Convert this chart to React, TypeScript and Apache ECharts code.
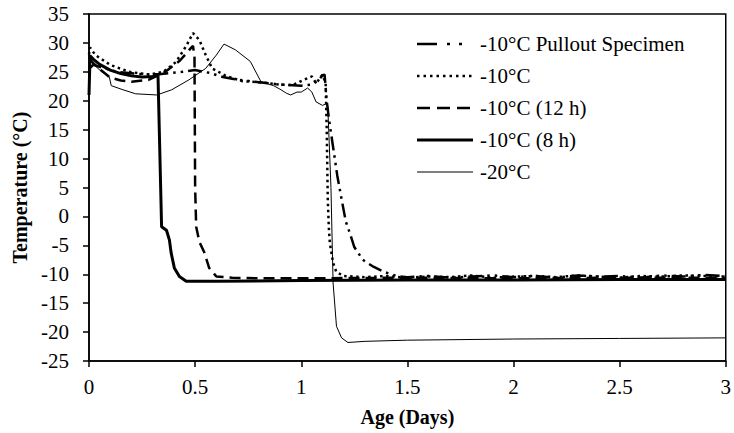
import React, { useEffect, useRef } from "react";
import * as echarts from "echarts";

const FONT = "Liberation Serif, Times New Roman, serif";

const seriesNames = [
  "-10°C Pullout Specimen",
  "-10°C",
  "-10°C (12 h)",
  "-10°C (8 h)",
  "-20°C",
];

const xTicks = [0, 0.5, 1, 1.5, 2, 2.5, 3];
const yMin = -25;
const yMax = 35;

const pulloutDays = [0, 0.02, 0.13, 0.25, 0.33, 0.44, 0.5, 0.57, 0.63, 0.69, 0.8, 0.9, 1.0, 1.05, 1.08, 1.1, 1.11, 1.12, 1.13, 1.15, 1.17, 1.19, 1.21, 1.23, 1.25, 1.29, 1.34, 1.39, 1.45, 1.5, 1.6, 1.7, 1.8, 1.9, 2.0, 2.1, 2.2, 2.3, 2.4, 2.5, 2.6, 2.7, 2.8, 2.9, 3.0];
const pulloutTemps = [25.5, 26.2, 25.0, 24.6, 24.6, 25.0, 25.3, 24.8, 24.1, 23.7, 23.2, 22.8, 22.6, 22.8, 23.5, 24.4, 24.5, 20.0, 17.0, 12.0, 7.0, 3.0, -0.9, -3.0, -5.3, -7.5, -8.7, -9.6, -10.3, -10.5, -10.3, -10.6, -10.4, -10.2, -10.5, -10.3, -10.6, -10.2, -10.4, -10.3, -10.6, -10.2, -10.4, -10.1, -10.3];

const dottedDays = [0, 0.005, 0.03, 0.1, 0.19, 0.285, 0.35, 0.41, 0.46, 0.49, 0.52, 0.55, 0.58, 0.645, 0.72, 0.8, 0.9, 0.96, 1.01, 1.05, 1.07, 1.1, 1.115, 1.12, 1.125, 1.13, 1.135, 1.15, 1.165, 1.2, 1.3, 1.4, 1.5, 1.6, 1.7, 1.8, 1.9, 2.0, 2.1, 2.2, 2.3, 2.4, 2.5, 2.6, 2.7, 2.8, 2.9, 3.0];
const dottedTemps = [28.0, 29.2, 27.9, 26.2, 25.0, 24.5, 25.0, 26.7, 29.6, 31.7, 30.5, 27.9, 25.6, 24.3, 23.4, 23.2, 22.8, 22.7, 23.6, 24.2, 23.0, 24.5, 23.0, 15.0, 3.0, -2.0, -4.7, -8.0, -9.6, -10.3, -10.5, -10.3, -10.6, -10.4, -10.5, -10.2, -10.6, -10.4, -10.3, -10.5, -10.2, -10.4, -10.6, -10.3, -10.4, -10.2, -10.3, -10.4];

const twelveDays = [0, 0.02, 0.05, 0.1, 0.15, 0.2, 0.28, 0.36, 0.43, 0.48, 0.49, 0.497, 0.5, 0.505, 0.52, 0.543, 0.566, 0.6, 0.675, 0.8, 1.0, 1.5, 2.0, 2.5, 3.0];
const twelveTemps = [27.5, 26.5, 25.5, 24.0, 23.5, 23.3, 23.6, 25.0, 27.0, 29.1, 29.5, 27.5, 5.0, -1.8, -4.4, -6.2, -8.9, -10.4, -10.6, -10.7, -10.7, -10.6, -10.7, -10.6, -10.6];

const eightDays = [0, 0.005, 0.02, 0.05, 0.1, 0.15, 0.2, 0.25, 0.3, 0.325, 0.342, 0.365, 0.379, 0.387, 0.402, 0.426, 0.458, 0.6, 1.0, 1.5, 2.0, 2.5, 3.0];
const eightTemps = [21.0, 27.8, 27.2, 26.3, 25.3, 24.7, 24.3, 24.1, 24.2, 24.5, -1.8, -2.4, -4.1, -6.3, -8.9, -10.4, -11.2, -11.2, -11.1, -11.0, -11.0, -10.9, -10.9];

const twentyDays = [0, 0.005, 0.03, 0.06, 0.095, 0.105, 0.16, 0.22, 0.32, 0.39, 0.47, 0.55, 0.6, 0.636, 0.69, 0.76, 0.81, 0.87, 0.9, 0.93, 0.95, 0.98, 1.0, 1.03, 1.05, 1.07, 1.1, 1.12, 1.125, 1.14, 1.15, 1.166, 1.19, 1.22, 1.3, 1.5, 2.0, 2.5, 3.0];
const twentyTemps = [24.0, 27.0, 26.0, 25.0, 24.2, 22.6, 21.9, 21.2, 21.0, 21.9, 23.6, 25.6, 27.9, 29.8, 28.8, 26.8, 23.3, 22.6, 22.0, 21.3, 21.0, 21.5, 21.5, 22.2, 21.5, 19.8, 19.2, 19.5, 19.0, 5.0, -11.5, -19.0, -21.0, -21.8, -21.6, -21.4, -21.2, -21.1, -21.0];

const pairs = (xs: number[], ys: number[]) => xs.map((x, i) => [x, ys[i]]);

export default function App() {
  const ref = useRef<HTMLDivElement>(null);
  useEffect(() => {
    if (!ref.current) return;
    const chart = echarts.init(ref.current, undefined, { renderer: "svg" });
    const axisLabelStyle = { color: "#000", fontFamily: FONT, fontSize: 21 };
    const nameStyle = { color: "#000", fontFamily: FONT, fontSize: 20, fontWeight: "bold" as const };

    const styles = [
      { width: 2.5, type: [14, 5, 2.5, 5, 2.5, 5], legendDash: [20, 10, 3, 9, 3, 11] },
      { width: 2.5, type: [2.5, 3.5], legendDash: [2.5, 4] },
      { width: 2.5, type: [11, 6], legendDash: [13, 7] },
      { width: 3, type: "solid", legendDash: null },
      { width: 1, type: "solid", legendDash: null },
    ];
    const datasets = [
      pairs(pulloutDays, pulloutTemps),
      pairs(dottedDays, dottedTemps),
      pairs(twelveDays, twelveTemps),
      pairs(eightDays, eightTemps),
      pairs(twentyDays, twentyTemps),
    ];

    const legendX = 417;
    const legendW = 56;
    const legendTop = 44;
    const legendStep = 32;
    const legendGraphics: any[] = [];
    seriesNames.forEach((name, i) => {
      const y = legendTop + i * legendStep;
      legendGraphics.push({
        type: "line",
        shape: { x1: legendX, y1: y, x2: legendX + legendW, y2: y },
        style: {
          stroke: "#000",
          lineWidth: styles[i].width,
          lineDash: styles[i].legendDash || undefined,
          lineCap: "butt",
        },
        silent: true,
      });
      legendGraphics.push({
        type: "text",
        x: legendX + legendW + 7,
        y,
        style: {
          text: name,
          fill: "#000",
          font: `21px ${FONT}`,
          verticalAlign: "middle",
          align: "left",
        },
        silent: true,
      });
    });

    chart.setOption({
      animation: false,
      backgroundColor: "#fff",
      textStyle: { fontFamily: FONT },
      grid: {
        left: 89,
        top: 14,
        width: 640,
        height: 347,
        show: true,
        borderColor: "#000",
        borderWidth: 1.5,
        backgroundColor: "transparent",
      },
      graphic: legendGraphics,
      xAxis: {
        type: "value",
        min: xTicks[0],
        max: xTicks[xTicks.length - 1],
        interval: 0.5,
        name: "Age (Days)",
        nameLocation: "middle",
        nameGap: 46,
        nameTextStyle: nameStyle,
        axisLine: { show: true, onZero: false, lineStyle: { color: "#000", width: 1.5 } },
        axisTick: { show: true, inside: false, length: 6, lineStyle: { color: "#000", width: 1.5 } },
        axisLabel: { ...axisLabelStyle, margin: 15 },
        splitLine: { show: false },
      },
      yAxis: {
        type: "value",
        min: yMin,
        max: yMax,
        interval: 5,
        name: "Temperature (°C)",
        nameLocation: "middle",
        nameGap: 56,
        nameTextStyle: nameStyle,
        axisLine: { show: true, onZero: false, lineStyle: { color: "#000", width: 1.5 } },
        axisTick: { show: true, inside: false, length: 6, lineStyle: { color: "#000", width: 1.5 } },
        axisLabel: { ...axisLabelStyle, margin: 20 },
        splitLine: { show: false },
      },
      series: seriesNames.map((name, i) => ({
        name,
        type: "line",
        data: datasets[i],
        showSymbol: false,
        symbol: "none",
        lineStyle: { color: "#000", cap: "butt", width: styles[i].width, type: styles[i].type },
        itemStyle: { color: "#000" },
        emphasis: { disabled: true },
      })),
    });
    return () => chart.dispose();
  }, []);
  return (
    <div
      ref={ref}
      style={{ position: "fixed", left: 0, top: 0, width: 734, height: 433, background: "#fff" }}
    />
  );
}
